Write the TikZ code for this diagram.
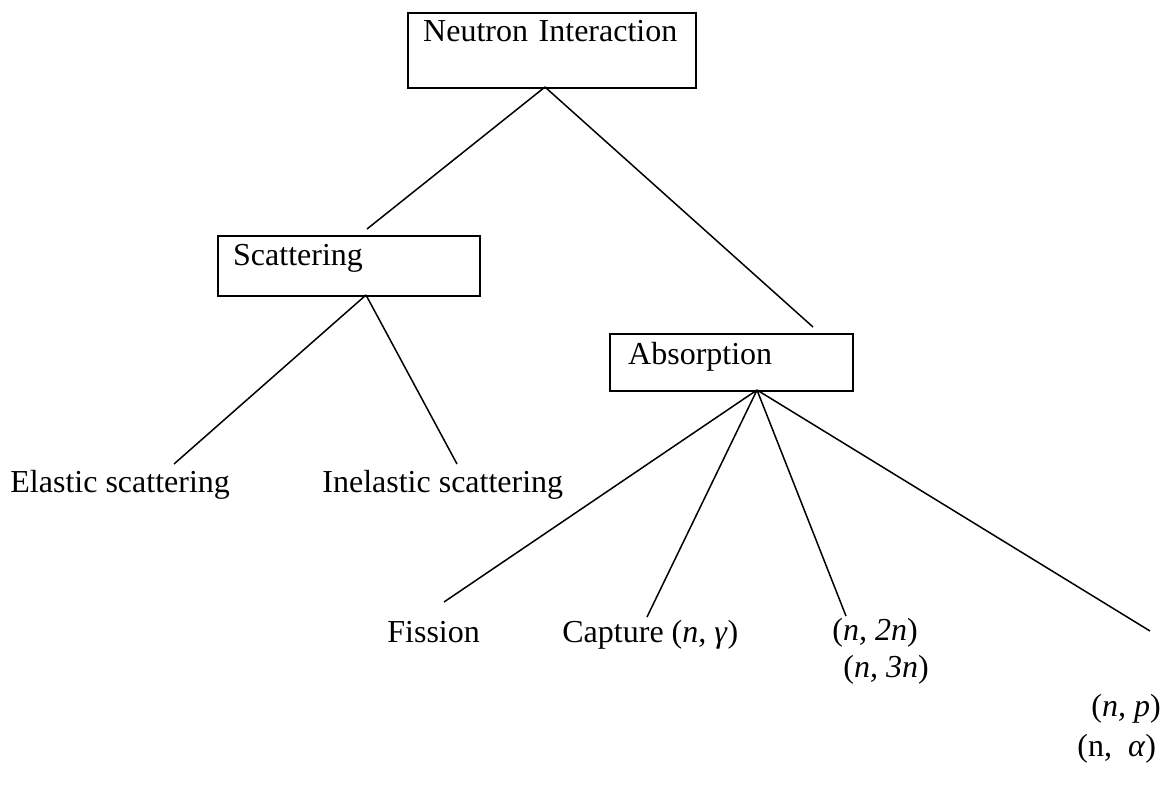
\documentclass[tikz,border=0pt]{standalone}
\usepackage{fontspec}
\setmainfont{Liberation Serif}
\usepackage{tikz}
\tikzset{ %
  ,every node/.style={font=\fontsize{16}{19}\selectfont}
  ,box/.style={draw, line width=1.2pt, anchor=north west, inner xsep=7.5pt, inner ysep=0pt, text height=14.5pt, align=left}
  ,leaf/.style={anchor=base west, inner sep=0pt}
  ,link/.style={line width=0.75pt}
}

\begin{document}
\begin{tikzpicture}[x=0.5pt, y=-0.5pt]
      \useasboundingbox (0,0) rectangle (1169,794);
      % boxes
      \node[box, text width=129pt, text depth=23.5pt, text height=14pt] (neutron) at (407,12) {Neutron Interaction};
      \node[box, text width=116pt, text depth=15.5pt] (scatter) at (217,235) {Scattering};
      \node[box, text width=103.5pt, text depth=13.5pt, inner xsep=9pt, text height=15pt] (absorb) at (609,333) {Absorption};
      % leaves
      \node[leaf] (elastic) at (10,492) {Elastic scattering};
      \node[leaf] (inelastic) at (322,492) {Inelastic scattering};
      \node[leaf] (fission) at (387,642) {Fission};
      \node[leaf] (capture) at (562,642) {Capture (\textit{n, γ})};
      \node[leaf] (ntwo) at (832,640) {(\textit{n, 2n})};
      \node[leaf] (nthree) at (843,677) {(\textit{n, 3n})};
      \node[leaf] (nproton) at (1091,716) {(\textit{n, p})};
      \node[leaf] (nalpha) at (1077,756) {(n,\ \ \textit{α})};
      % line ends
      \coordinate (nroot) at (545,87);
      \coordinate (scroot) at (366,295);
      \coordinate (abroot) at (757,390);
      \coordinate (scend) at (367,229);
      \coordinate (abend) at (813,327);
      \coordinate (elend) at (174,464);
      \coordinate (inend) at (457,464);
      \coordinate (fiend) at (444,602);
      \coordinate (caend) at (647,617);
      \coordinate (ntend) at (846,616);
      \coordinate (farend) at (1150,631);
      \draw[link] (nroot) -- (scend) (nroot) -- (abend);
      \draw[link] (scroot) -- (elend) (scroot) -- (inend);
      \draw[link] (abroot) -- (fiend) (abroot) -- (caend) (abroot) -- (ntend) (abroot) -- (farend);
    \end{tikzpicture}
\end{document}
